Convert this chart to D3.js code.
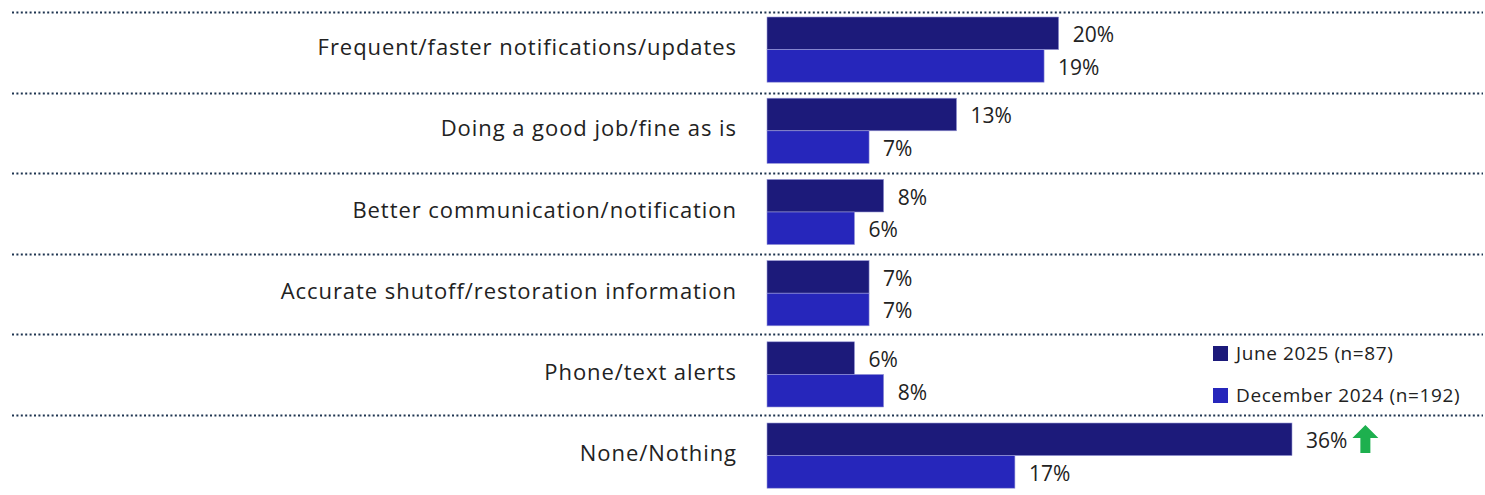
<!DOCTYPE html>
<html>
<head>
<meta charset="utf-8">
<script src="https://cdn.jsdelivr.net/npm/d3@7"></script>
<style>
  html, body { margin: 0; padding: 0; background: #fff; }
  svg { display: block; }
  text { font-family: "Open Sans", "Noto Sans", sans-serif; }
</style>
</head>
<body>
<svg id="chart" width="1485" height="495"></svg>
<script>
// Survey responses: suggested improvements
const categories = [
  "Frequent/faster notifications/updates",
  "Doing a good job/fine as is",
  "Better communication/notification",
  "Accurate shutoff/restoration information",
  "Phone/text alerts",
  "None/Nothing"
];
const june2025 = [20, 13, 8, 7, 6, 36];
const dec2024 = [19, 7, 6, 7, 8, 17];
const seriesNames = ["June 2025 (n=87)", "December 2024 (n=192)"];
const seriesColors = ["#1c1a7a", "#2626bb"];
// Rows where the latest wave is significantly higher
const significantUp = ["None/Nothing"];

const svg = d3.select("#chart");

const barLeft = 767;
const x = d3.scaleLinear().domain([0, 36]).range([barLeft, barLeft + 525]);

// bar groups and separator rows
const y = d3.scaleBand().domain(categories).range([17, 17 + 6 * 81.2]).padding(0);
const sep = d3.scalePoint().domain(categories).range([12, 415]);
const barH = 32.6;

// dotted separators
svg.append("g").selectAll("line")
  .data(categories)
  .join("line")
  .attr("x1", 12).attr("x2", 1483)
  .attr("y1", d => Math.round(sep(d)) + 0.5)
  .attr("y2", d => Math.round(sep(d)) + 0.5)
  .attr("stroke", "#1f3550")
  .attr("stroke-width", 2)
  .attr("stroke-dasharray", "2,2.4");

const rows = svg.append("g").selectAll("g")
  .data(categories.map((c, i) => ({ c, vals: [june2025[i], dec2024[i]] })))
  .join("g")
  .attr("transform", d => `translate(0,${y(d.c)})`);

// category labels
rows.append("text")
  .attr("x", 737)
  .attr("y", barH - 2)
  .attr("dy", "0.35em")
  .attr("text-anchor", "end")
  .attr("fill", "#222")
  .style("font-size", "22px")
  .style("letter-spacing", "0.95px")
  .text(d => d.c);

// bars
rows.selectAll("rect")
  .data(d => d.vals)
  .join("rect")
  .attr("x", barLeft)
  .attr("y", (v, i) => i * barH)
  .attr("width", v => x(v) - barLeft)
  .attr("height", barH)
  .attr("fill", (v, i) => seriesColors[i])
  .attr("stroke", "#9a9ad8")
  .attr("stroke-width", 0.6);

// value labels
rows.selectAll("text.val")
  .data(d => d.vals)
  .join("text")
  .attr("class", "val")
  .attr("x", v => x(v) + 14)
  .attr("y", (v, i) => i * barH + barH / 2 + 1.5)
  .attr("dy", "0.35em")
  .attr("fill", "#222")
  .style("font-size", "21px")
  .text(v => v + "%");

// significance arrows
rows.filter(d => significantUp.includes(d.c)).each(function(d) {
  const g = d3.select(this);
  const lbl = g.select("text.val").node();
  const bx = lbl.getBBox();
  const ax = bx.x + bx.width + 5;
  const top = 2, bot = 30;
  const hw = 13, sw = 5, headBot = 15;
  g.append("path")
    .attr("d", `M${ax + hw},${top} L${ax + 2 * hw},${headBot} L${ax + hw + sw},${headBot} L${ax + hw + sw},${bot} L${ax + hw - sw},${bot} L${ax + hw - sw},${headBot} L${ax},${headBot} Z`)
    .attr("fill", "#1db04e");
});

// legend
const legend = svg.append("g").attr("transform", "translate(1213,346)");
const li = legend.selectAll("g")
  .data(seriesNames)
  .join("g")
  .attr("transform", (d, i) => `translate(0,${i * 42})`);
li.append("rect")
  .attr("width", 15).attr("height", 15)
  .attr("fill", (d, i) => seriesColors[i]);
li.append("text")
  .attr("x", 23).attr("y", 7.5)
  .attr("dy", "0.35em")
  .attr("fill", "#222")
  .style("font-size", "19px")
  .style("letter-spacing", "0.6px")
  .text(d => d);
</script>
</body>
</html>
